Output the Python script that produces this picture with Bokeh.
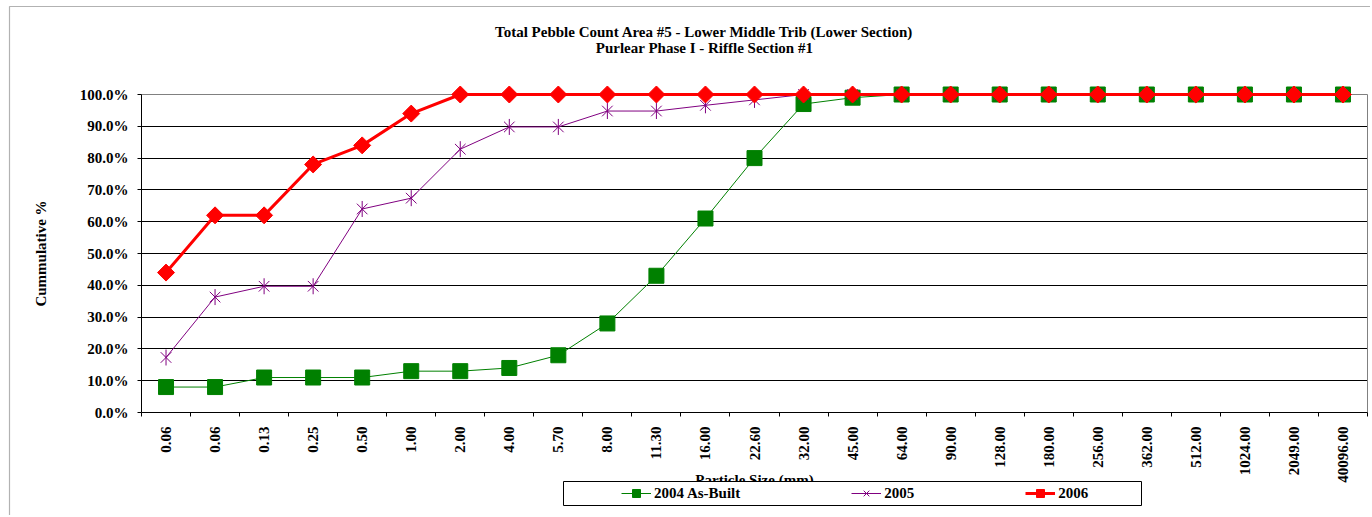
from math import pi
from bokeh.plotting import figure
from bokeh.models import (Range1d, FixedTicker, PrintfTickFormatter, Label,
                          BoxAnnotation, Legend, LegendItem, LinearAxis)
from bokeh.embed import file_html
from bokeh.resources import INLINE

# ---------------- data ----------------
title_line1 = "Total Pebble Count Area #5 - Lower Middle Trib (Lower Section)"
title_line2 = "Purlear Phase I - Riffle Section #1"
x_title = "Particle Size (mm)"
y_title = "Cummulative %"

sizes = ["0.06", "0.06", "0.13", "0.25", "0.50", "1.00", "2.00", "4.00", "5.70",
         "8.00", "11.30", "16.00", "22.60", "32.00", "45.00", "64.00", "90.00",
         "128.00", "180.00", "256.00", "362.00", "512.00", "1024.00", "2049.00",
         "40096.00"]

s2004 = [8, 8, 11, 11, 11, 13, 13, 14, 18, 28, 43, 61, 80, 97, 99,
         100, 100, 100, 100, 100, 100, 100, 100, 100, 100]
s2005 = [17.3, 36.3, 39.7, 39.7, 64.0, 67.4, 82.8, 89.8, 89.8, 94.8, 94.8, 96.6,
         98.3, 100, 100, 100, 100, 100, 100, 100, 100, 100, 100, 100, 100]
s2006 = [44, 62, 62, 78, 84, 94, 100, 100, 100, 100, 100, 100, 100, 100, 100,
         100, 100, 100, 100, 100, 100, 100, 100, 100, 100]

y_ticks = [0, 10, 20, 30, 40, 50, 60, 70, 80, 90, 100]
grid_ticks = [10, 20, 30, 40, 50, 60, 70, 80, 90]

series_names = ["2004 As-Built", "2005", "2006"]
series_colors = ["#008000", "#800080", "#FF0000"]

# category positions (1..N) and boundaries between them
N = len(sizes)
xs = list(range(1, N + 1))
bounds = [i + 0.5 for i in range(0, N + 1)]
X0, X1 = 0.5, N + 0.5
Y0, Y1 = 0, 100

# ---------------- layout (pixels) ----------------
W, H = 1370, 515
PL, PR, PT, PB = 141, 1367, 94, 412      # plot-area edges on the page
kx = (PR - PL) / (X1 - X0)
ky = (PB - PT) / (Y1 - Y0)


def dx(px):
    return X0 + (px - PL) / kx


def dy(py):
    return Y0 + (PB - py) / ky


FONT = "Liberation Serif"
FS = "15px"

p = figure(width=W, height=H, x_range=Range1d(dx(0), dx(W)),
           y_range=Range1d(dy(H), dy(0)), output_backend="svg",
           toolbar_location=None, title=None, x_axis_type=None,
           y_axis_type=None, min_border=0)
p.background_fill_color = "white"
p.border_fill_color = "white"
p.outline_line_color = None

# chart-area border (left and top edges visible in the window)
p.add_layout(BoxAnnotation(left=dx(9), right=dx(W + 40), top=dy(6),
                           bottom=dy(H + 40), fill_alpha=0, line_color="black",
                           line_width=1.2))

# horizontal grid lines, limited to the plot area (long inward ticks)
grid_ax = LinearAxis(fixed_location=X0, bounds=(Y0, Y1),
                     ticker=FixedTicker(ticks=grid_ticks),
                     major_tick_in=PR - PL, major_tick_out=0,
                     major_tick_line_color="black", major_tick_line_width=1,
                     minor_tick_line_color=None, axis_line_color=None,
                     major_label_text_alpha=0, level="underlay")
p.add_layout(grid_ax, "left")

# plot-area top / right border (grey)
top_ax = LinearAxis(fixed_location=Y1, bounds=(X0, X1),
                    ticker=FixedTicker(ticks=[]), axis_line_color="#808080",
                    major_tick_line_color=None, minor_tick_line_color=None,
                    level="underlay")
p.add_layout(top_ax, "above")
right_ax = LinearAxis(fixed_location=X1, bounds=(Y0, Y1),
                      ticker=FixedTicker(ticks=[]), axis_line_color="#808080",
                      major_tick_line_color=None, minor_tick_line_color=None,
                      level="underlay")
p.add_layout(right_ax, "right")

# y axis
yax = LinearAxis(fixed_location=X0, bounds=(Y0, Y1),
                 ticker=FixedTicker(ticks=y_ticks),
                 formatter=PrintfTickFormatter(format="%.1f%%"),
                 major_tick_out=4, major_tick_in=0, minor_tick_line_color=None,
                 major_label_standoff=9, axis_line_color="black",
                 major_tick_line_color="black", major_label_text_font=FONT,
                 major_label_text_font_style="bold",
                 major_label_text_font_size=FS, major_label_text_color="black")
p.add_layout(yax, "left")

# x axis: labels at category centres, ticks at boundaries
xax = LinearAxis(fixed_location=Y0, bounds=(X0, X1),
                 ticker=FixedTicker(ticks=xs, minor_ticks=bounds),
                 major_label_overrides={x: s for x, s in zip(xs, sizes)},
                 major_label_orientation=pi / 2, major_tick_out=0,
                 major_tick_in=0, major_tick_line_color=None,
                 minor_tick_out=4, minor_tick_in=0, minor_tick_line_color="black",
                 major_label_standoff=10, axis_line_color="black",
                 major_label_text_font=FONT, major_label_text_font_style="bold",
                 major_label_text_font_size=FS, major_label_text_color="black")
p.add_layout(xax, "below")

# ---------------- series ----------------
r04_line = p.line(xs, s2004, line_color=series_colors[0], line_width=1)
r04_pts = p.scatter(xs, s2004, marker="square", size=15,
                    fill_color=series_colors[0], line_color=series_colors[0])

r05_line = p.line(xs, s2005, line_color=series_colors[1], line_width=1)
r05_x = p.scatter(xs, s2005, marker="x", size=15, line_color=series_colors[1],
                  line_width=1)
r05_bar = p.scatter(xs, s2005, marker="dash", angle=pi / 2, size=16,
                    line_color=series_colors[1], line_width=1)

r06_line = p.line(xs, s2006, line_color=series_colors[2], line_width=3)
r06_pts = p.scatter(xs, s2006, marker="square", angle=pi / 4, size=12,
                    fill_color=series_colors[2], line_color=series_colors[2])

# ---------------- texts ----------------
for txt, py in [(title_line1, 31.5), (title_line2, 47.5)]:
    p.add_layout(Label(x=dx(704), y=dy(py), text=txt, text_align="center",
                       text_baseline="middle", text_font=FONT,
                       text_font_style="bold", text_font_size=FS,
                       text_color="black"))

p.add_layout(Label(x=dx(40), y=dy((PT + PB) / 2), text=y_title, angle=pi / 2,
                   text_align="center", text_baseline="middle", text_font=FONT,
                   text_font_style="bold", text_font_size=FS,
                   text_color="black"))

p.add_layout(Label(x=(X0 + X1) / 2, y=dy(479), text=x_title,
                   text_align="center", text_baseline="middle", text_font=FONT,
                   text_font_style="bold", text_font_size=FS,
                   text_color="black"))

# legend frame (covers the lower part of the x title, as in the original)
p.add_layout(BoxAnnotation(left=dx(563), right=dx(1141), top=dy(481),
                           bottom=dy(505), fill_color="white", fill_alpha=1.0,
                           line_color="black", line_width=1, line_alpha=1.0))

legend = Legend(items=[
    LegendItem(label=series_names[0], renderers=[r04_line, r04_pts]),
    LegendItem(label=series_names[1], renderers=[r05_line, r05_x, r05_bar]),
    LegendItem(label=series_names[2], renderers=[r06_line, r06_pts]),
], location=(621, H - 503), orientation="horizontal", spacing=111, padding=0,
    margin=0, glyph_width=30, glyph_height=20, label_standoff=3,
    border_line_alpha=0, background_fill_alpha=0,
    label_text_font=FONT, label_text_font_style="bold",
    label_text_font_size=FS, label_text_color="black")
p.add_layout(legend)

open("out.html", "w").write(file_html(p, INLINE))
